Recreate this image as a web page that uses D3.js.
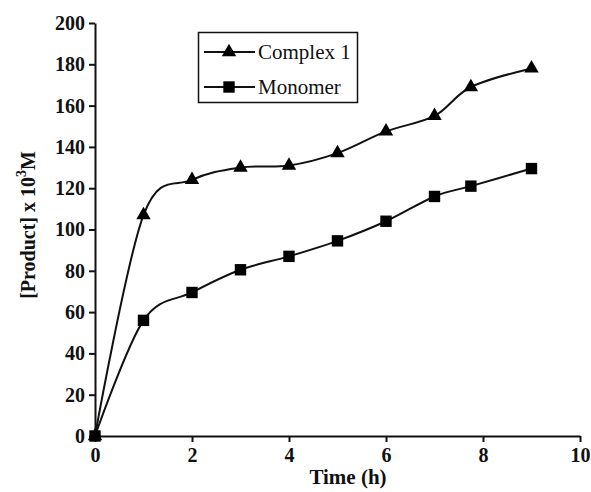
<!DOCTYPE html>
<html>
<head>
<meta charset="utf-8">
<script src="https://cdn.jsdelivr.net/npm/d3@7"></script>
<style>
  body { margin: 0; background: #fff; }
  svg { display: block; }
  svg text { font-family: "Liberation Serif", "Times New Roman", serif; }
</style>
</head>
<body>
<div id="chart"></div>
<script>
/* Product vs time — two smoothed series */
const seriesNames = ['Complex 1', 'Monomer'];
const timeComplex = [0, 1, 2, 3, 4, 5, 6, 7, 7.75, 9];
const complexValues = [0, 107, 124, 130, 131, 137, 147.5, 155, 169, 178];
const timeMonomer = [0, 1, 2, 3, 4, 5, 6, 7, 7.75, 9];
const monomerValues = [0, 56, 69.5, 80.5, 87, 94.5, 104, 116, 121, 129.5];
const xTicks = [0, 2, 4, 6, 8, 10];
const yTicks = [0, 20, 40, 60, 80, 100, 120, 140, 160, 180, 200];

const W = 591, H = 492;
const margin = { top: 23, right: 11, bottom: 56, left: 95 };
const serif = '"Liberation Serif", "Times New Roman", serif';

const svg = d3.select('#chart').append('svg').attr('width', W).attr('height', H);

const x = d3.scaleLinear().domain([0, 10]).range([margin.left, W - margin.right]);
const y = d3.scaleLinear().domain([0, 200]).range([H - margin.bottom, margin.top]);

// axes
const gx = svg.append('g').attr('transform', `translate(0,${y(0)})`)
    .call(d3.axisBottom(x).tickValues(xTicks).tickSize(6).tickPadding(6).tickSizeOuter(0));
const gy = svg.append('g').attr('transform', `translate(${x(0)},0)`)
    .call(d3.axisLeft(y).tickValues(yTicks).tickSize(6).tickPadding(4).tickSizeOuter(0));
[gx, gy].forEach(g => {
    g.attr('font-family', serif);
    g.selectAll('path, line').attr('stroke', '#111').attr('stroke-width', 2);
    g.selectAll('text').attr('fill', '#111').attr('font-family', serif)
        .attr('font-size', '20px').attr('font-weight', 'bold');
});

// axis titles
svg.append('text').attr('x', 348).attr('y', 484).attr('text-anchor', 'middle').attr('font-family', serif)
    .attr('font-size', '21px').attr('font-weight', 'bold').attr('fill', '#111').text('Time (h)');
const yt = svg.append('text').attr('transform', 'translate(35,225) rotate(-90)').attr('text-anchor', 'middle')
    .attr('font-family', serif).attr('font-size', '20px').attr('font-weight', 'bold').attr('fill', '#111');
yt.append('tspan').text('[Product] x 10');
yt.append('tspan').attr('font-size', '14px').attr('dy', -9).text('3');
yt.append('tspan').attr('dy', 9).text('M');

// series (Excel-style smoothed lines)
const line = d3.line().x(d => x(d[0])).y(d => y(d[1])).curve(d3.curveCatmullRom.alpha(0));
const complexPts = timeComplex.map((t, i) => [t, complexValues[i]]);
const monomerPts = timeMonomer.map((t, i) => [t, monomerValues[i]]);

svg.append('path').datum(complexPts).attr('fill', 'none').attr('stroke', '#111').attr('stroke-width', 2).attr('d', line);
svg.append('path').datum(monomerPts).attr('fill', 'none').attr('stroke', '#111').attr('stroke-width', 2).attr('d', line);

const tri = d3.symbol().type(d3.symbolTriangle).size(90);
const sq = d3.symbol().type(d3.symbolSquare).size(130);

svg.selectAll('.tri').data(complexPts).enter().append('path')
    .attr('transform', d => `translate(${x(d[0])},${y(d[1])})`).attr('d', tri).attr('fill', '#000');
svg.selectAll('.sq').data(monomerPts).enter().append('path')
    .attr('transform', d => `translate(${x(d[0])},${y(d[1])})`).attr('d', sq).attr('fill', '#000');

// legend
const lg = svg.append('g');
lg.append('rect').attr('x', 198.5).attr('y', 32.5).attr('width', 159).attr('height', 70)
    .attr('fill', '#fff').attr('stroke', '#111').attr('stroke-width', 1.5);
seriesNames.forEach((name, i) => {
    const cy = 52 + i * 35;
    lg.append('line').attr('x1', 204).attr('x2', 255).attr('y1', cy).attr('y2', cy).attr('stroke', '#111').attr('stroke-width', 2);
    lg.append('path').attr('transform', `translate(229,${cy})`).attr('d', i === 0 ? tri : sq).attr('fill', '#000');
    lg.append('text').attr('x', 258).attr('y', cy + 7).attr('font-family', serif)
        .attr('font-size', '21px').attr('fill', '#111').text(name);
});
</script>
</body>
</html>
